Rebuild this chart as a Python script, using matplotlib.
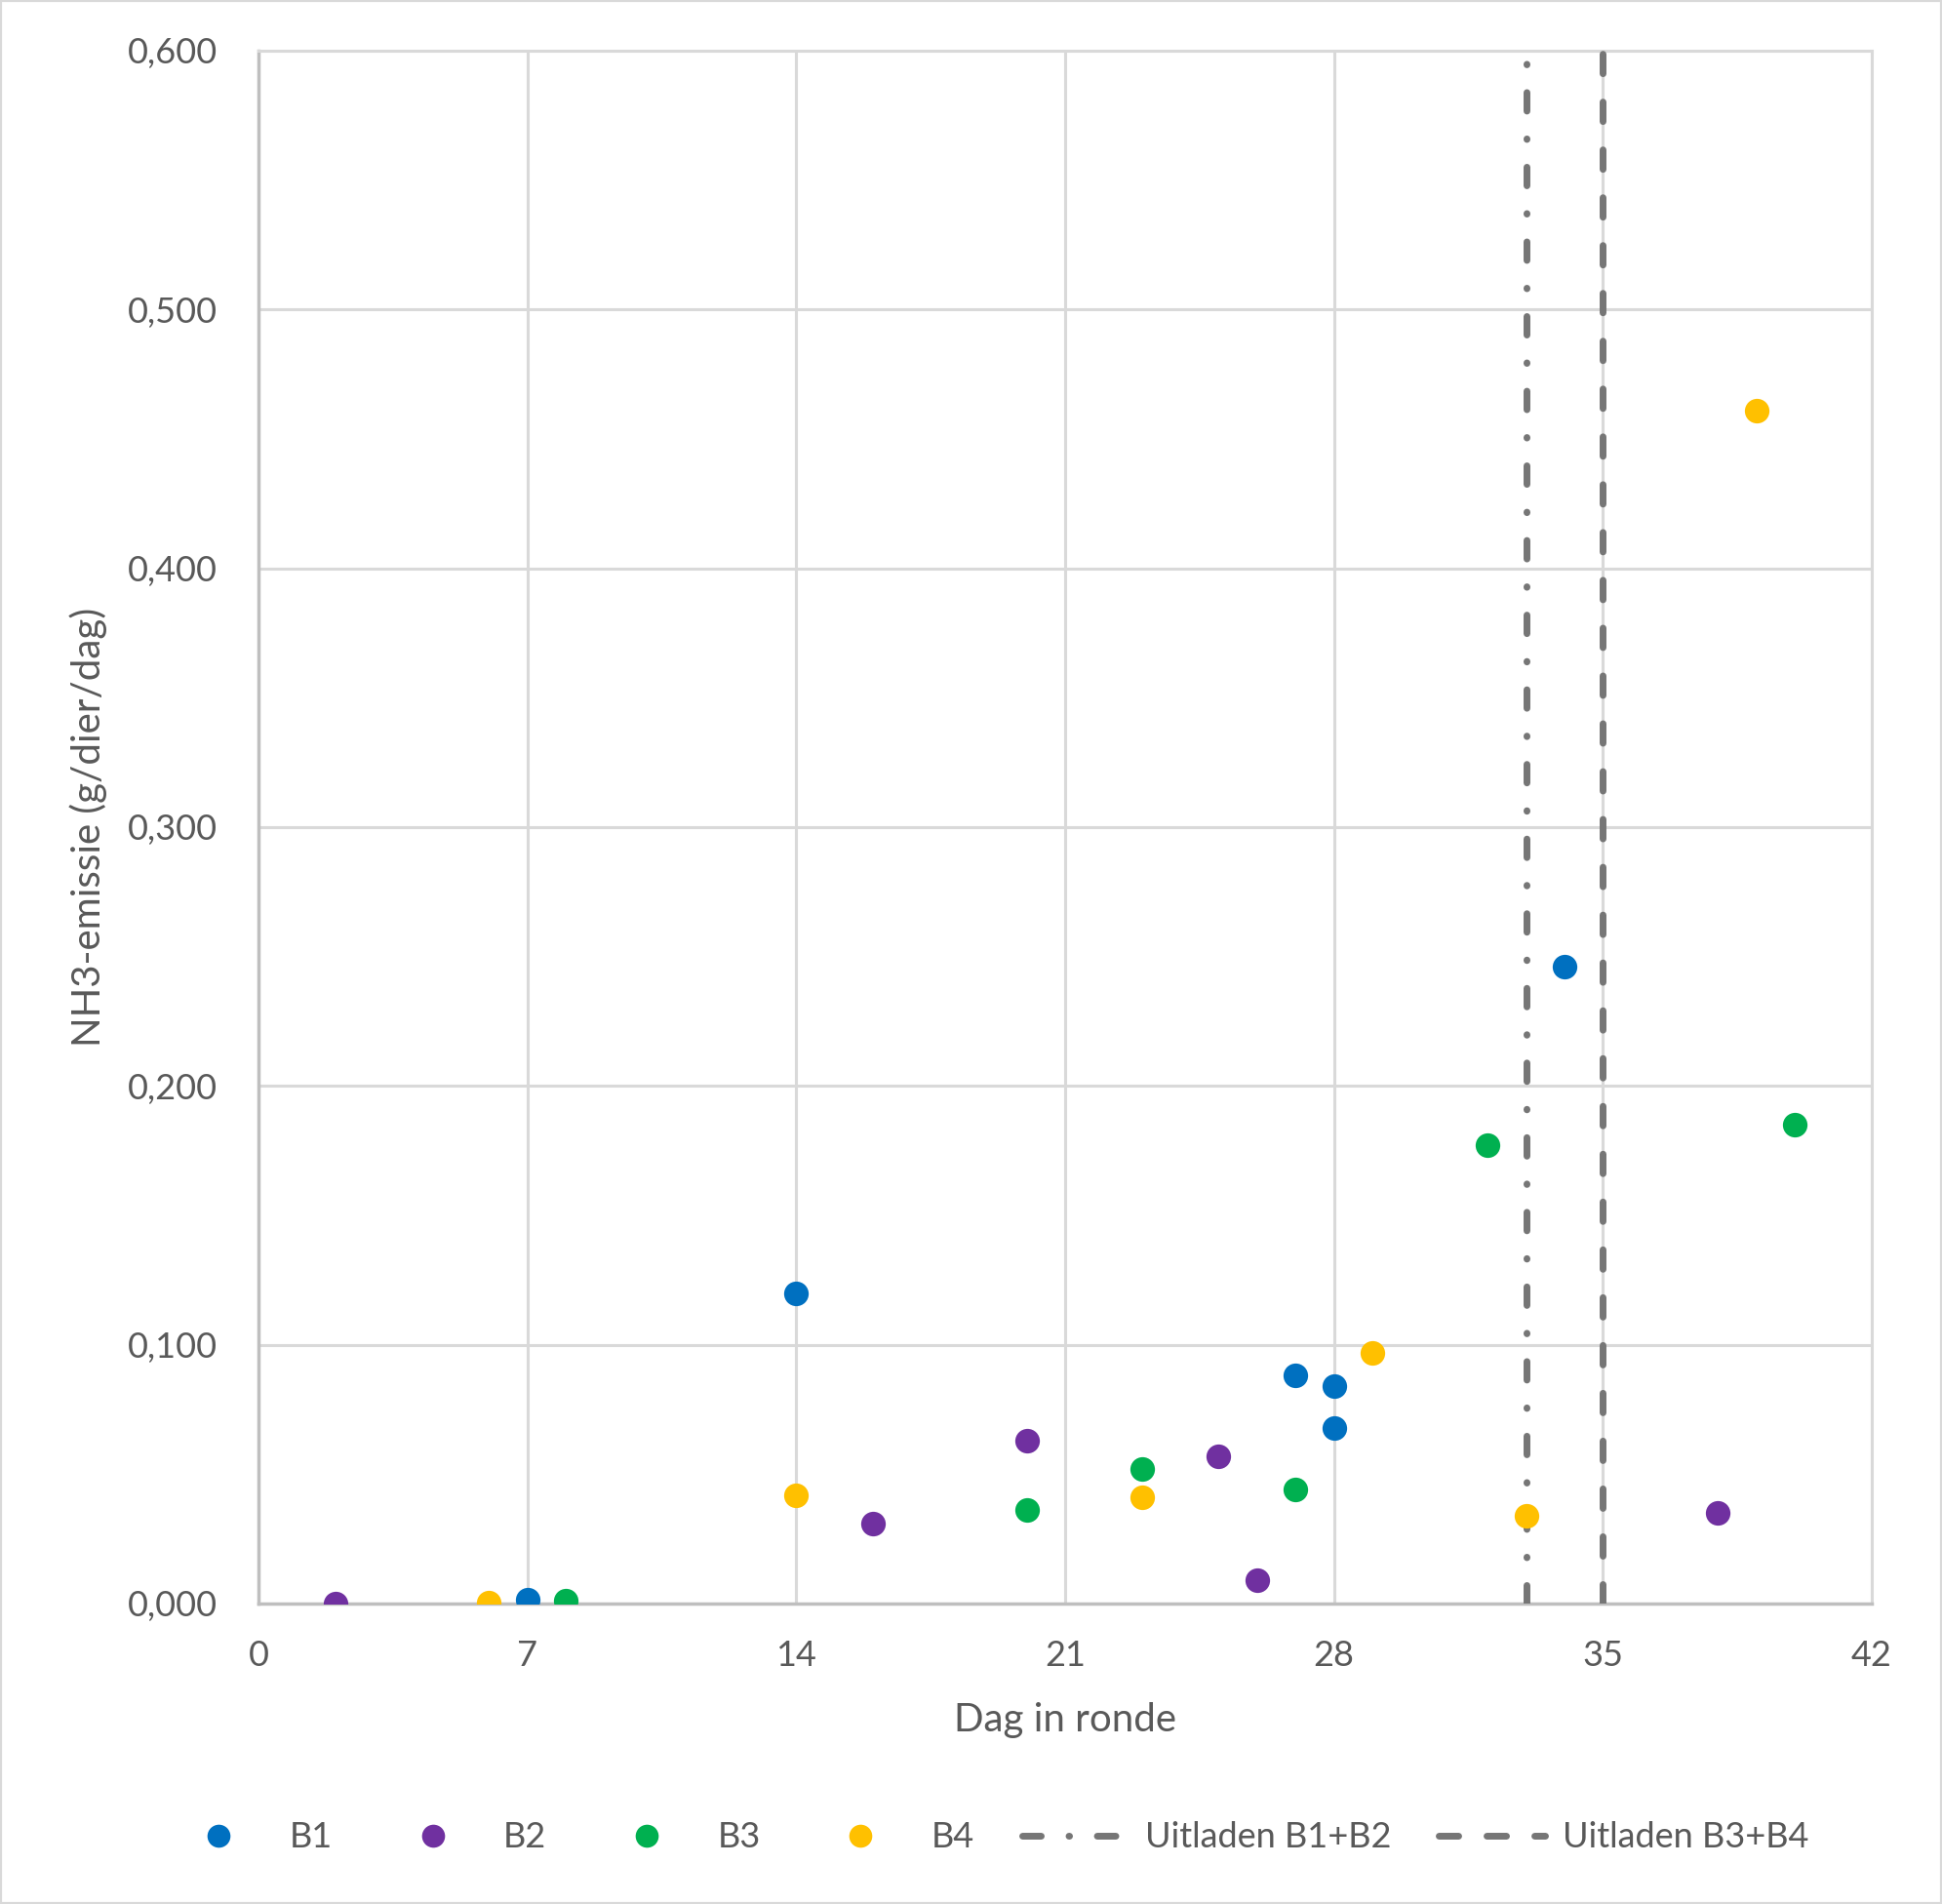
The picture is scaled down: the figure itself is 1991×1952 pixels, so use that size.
import numpy as np
import matplotlib
matplotlib.use("Agg")
import matplotlib.pyplot as plt
from matplotlib.ticker import FuncFormatter
from matplotlib.lines import Line2D
from matplotlib.patches import Rectangle

# data
b1_day = [7, 14, 27, 28, 28, 34]
b1_val = [0.0015, 0.120, 0.088, 0.084, 0.068, 0.246]
b2_day = [2, 16, 20, 25, 26, 38]
b2_val = [0.000, 0.031, 0.063, 0.057, 0.009, 0.035]
b3_day = [8, 20, 23, 27, 32, 40]
b3_val = [0.001, 0.036, 0.052, 0.044, 0.177, 0.185]
b4_day = [6, 14, 23, 29, 33, 39]
b4_val = [0.0005, 0.042, 0.041, 0.097, 0.034, 0.461]

uitladen_b1b2 = 33
uitladen_b3b4 = 35

x_ticks = [0, 7, 14, 21, 28, 35, 42]
y_ticks = [0.0, 0.1, 0.2, 0.3, 0.4, 0.5, 0.6]

series = [
    ("B1", b1_day, b1_val, "#0070C0"),
    ("B2", b2_day, b2_val, "#7030A0"),
    ("B3", b3_day, b3_val, "#00B050"),
    ("B4", b4_day, b4_val, "#FFC000"),
]

plt.rcParams['font.family'] = ['Lato', 'DejaVu Sans']
plt.rcParams['lines.scale_dashes'] = False
txt = "#595959"
grid_c = "#D9D9D9"
line_c = "#767676"
dashdot = (13.7, 20.5, 0.4, 20.5)
dashed = (14.4, 20.9)

fig = plt.figure(figsize=(19.91, 19.52), dpi=100)
ax = fig.add_axes([0.1331, 0.1578, 0.9638 - 0.1331, 0.9734 - 0.1578])

for name, d, v, c in series:
    ax.scatter(d, v, s=330, color=c, linewidths=0, zorder=4, label=name)

# uitlaad-momenten
ax.axvline(uitladen_b1b2, color=line_c, lw=5, zorder=3, dashes=dashdot, dash_capstyle='round')
ax.axvline(uitladen_b3b4, color=line_c, lw=5, zorder=3, dashes=dashed, dash_capstyle='round')

ax.set_xlim(0, 42)
ax.set_ylim(0, 0.6)
ax.set_xticks(x_ticks)
ax.set_yticks(y_ticks)
ax.yaxis.set_major_formatter(FuncFormatter(lambda v, p: f"{v:.3f}".replace(".", ",")))
ax.grid(True, color=grid_c, lw=2.2, zorder=0)
ax.set_axisbelow(True)
ax.tick_params(length=0, labelsize=26, labelcolor=txt)
ax.tick_params(axis='x', pad=27)
ax.tick_params(axis='y', pad=30)
for s in ["top", "right"]:
    ax.spines[s].set_color(grid_c)
    ax.spines[s].set_linewidth(2.2)
for s in ["left", "bottom"]:
    ax.spines[s].set_color("#BFBFBF")
    ax.spines[s].set_linewidth(2.5)

ax.set_xlabel("Dag in ronde", fontsize=29, color=txt, labelpad=22)
ax.set_ylabel("NH3-emissie (g/dier/dag)", fontsize=29, color=txt, labelpad=15)

handles = [Line2D([], [], ls='none', marker='o', markersize=17, color=c, markeredgewidth=0)
           for _, _, _, c in series]
handles.append(Line2D([], [], color=line_c, lw=5, dashes=dashdot, dash_capstyle='round'))
handles.append(Line2D([], [], color=line_c, lw=5, dashes=dashed, dash_capstyle='round'))
labels = ["B1", "B2", "B3", "B4", "Uitladen B1+B2", "Uitladen B3+B4"]
fig.legend(handles, labels, loc='center', bbox_to_anchor=(0.5083, 0.0350), ncol=6,
           frameon=False, fontsize=26, labelcolor=txt, handlelength=3.0,
           columnspacing=1.35, handletextpad=0.5)

fig.add_artist(Rectangle((0, 0), 1, 1, transform=fig.transFigure, fill=False,
                         edgecolor=grid_c, lw=3))

fig.savefig("out.png", dpi=100)
